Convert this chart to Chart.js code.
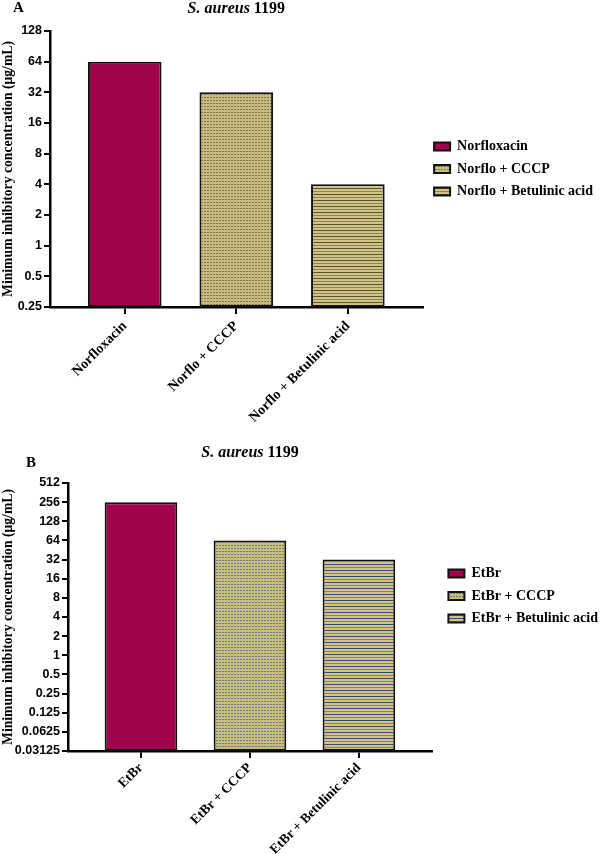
<!DOCTYPE html>
<html>
<head>
<meta charset="utf-8">
<script src="https://cdn.jsdelivr.net/npm/chart.js@4.4.0/dist/chart.umd.min.js"></script>
<style>
  body { margin: 0; background: #fff; width: 600px; height: 854px; position: relative; overflow: hidden; }
  .panel { position: absolute; left: 0; width: 600px; }
</style>
</head>
<body>
<div class="panel" style="top:0; height:430px"><canvas id="chartA"></canvas></div>
<div class="panel" style="top:430px; height:424px"><canvas id="chartB"></canvas></div>
<script>
// panel A: norfloxacin
const categoriesA = ['Norfloxacin', 'Norflo + CCCP', 'Norflo + Betulinic acid'];
const micA = [64, 32, 4];
const yTicksA = ['0.25', '0.5', '1', '2', '4', '8', '16', '32', '64', '128'];

// panel B: ethidium bromide
const categoriesB = ['EtBr', 'EtBr + CCCP', 'EtBr + Betulinic acid'];
const micB = [256, 64, 32];
const yTicksB = ['0.03125', '0.0625', '0.125', '0.25', '0.5', '1', '2', '4', '8', '16', '32', '64', '128', '256', '512'];

const yTitle = 'Minimum inhibitory concentration (μg/mL)';
const SERIF = '"Liberation Serif", "Times New Roman", serif';
const SANS = '"Liberation Sans", Arial, sans-serif';
const TAN = '#c9bc7f';

function dotPattern(dot) {
  const c = document.createElement('canvas');
  c.width = 3; c.height = 3;
  const g = c.getContext('2d');
  g.fillStyle = TAN; g.fillRect(0, 0, 3, 3);
  g.fillStyle = dot; g.fillRect(0, 1, 2, 1);
  return g.createPattern(c, 'repeat');
}

function stripePattern(line, line2) {
  const c = document.createElement('canvas');
  c.width = 4; c.height = 6;
  const g = c.getContext('2d');
  g.fillStyle = '#d0c386'; g.fillRect(0, 0, 4, 6);
  g.fillStyle = line; g.fillRect(0, 2, 4, 1);
  g.fillStyle = line2; g.fillRect(0, 5, 4, 1);
  return g.createPattern(c, 'repeat');
}

// draws "S. aureus 1199" (italic species) and the panel letter
const headerPlugin = {
  id: 'header',
  afterLayout(chart, args, opts) {
    // nudge the legend a little to the right, as in the figure
    const l = chart.legend;
    if (l) { l.left += opts.legendDx; l.right += opts.legendDx; }
  },
  afterDraw(chart, args, opts) {
    const { ctx, chartArea } = chart;
    ctx.save();
    ctx.fillStyle = '#000';
    ctx.textBaseline = 'middle';
    const it = 'italic bold 16px ' + SERIF;
    const bd = 'bold 16px ' + SERIF;
    ctx.font = it;
    const w1 = ctx.measureText(opts.species).width;
    ctx.font = bd;
    const w2 = ctx.measureText(' ' + opts.strain).width;
    const x = (chartArea.left + chartArea.right) / 2 - (w1 + w2) / 2;
    ctx.font = it;
    ctx.fillText(opts.species, x, opts.y);
    ctx.font = bd;
    ctx.fillText(' ' + opts.strain, x + w1, opts.y);
    ctx.font = 'bold 15px ' + SERIF;
    ctx.fillText(opts.tag, opts.tagX, opts.tagY);
    ctx.restore();
  }
};

function makeChart(id, categories, values, yTicks, fills, cfg) {
  const datasets = categories.map((c, i) => ({
    label: c,
    data: [{ x: i, y: values[i] }],
    backgroundColor: fills[i],
    borderColor: '#111',
    borderWidth: 2,
    borderSkipped: false,
    grouped: false,
    categoryPercentage: 1,
    barPercentage: cfg.barPct
  }));

  return new Chart(document.getElementById(id), {
    type: 'bar',
    data: { datasets },
    plugins: [headerPlugin],
    options: {
      responsive: true,
      maintainAspectRatio: false,
      animation: false,
      layout: { padding: { top: cfg.top, right: 0, bottom: 0, left: 0 } },
      scales: {
        x: {
          type: 'linear',
          offset: false,
          min: -0.67,
          max: categories.length - 1 + 0.67,
          afterBuildTicks: s => { s.ticks = categories.map((c, i) => ({ value: i })); },
          afterFit: s => { s.height = cfg.bottomH; },
          border: { color: '#000', width: 2.5 },
          grid: { offset: false, drawOnChartArea: false, color: '#000', lineWidth: 2, tickLength: 7 },
          ticks: {
            color: '#000', autoSkip: false, minRotation: 45, maxRotation: 45, padding: cfg.xPad,
            font: { family: SERIF, weight: 'bold', size: cfg.xFont },
            callback: v => categories[v]
          }
        },
        y: {
          type: 'logarithmic',
          min: Number(yTicks[0]),
          max: Number(yTicks[yTicks.length - 1]),
          afterBuildTicks: s => { s.ticks = yTicks.map(t => ({ value: Number(t) })); },
          afterFit: s => { s.width = cfg.leftW; },
          border: { color: '#000', width: 2.5 },
          grid: { drawOnChartArea: false, color: '#000', lineWidth: 2, tickLength: 6 },
          ticks: {
            color: '#000', autoSkip: false, padding: 2,
            font: { family: SANS, weight: 'bold', size: 12.5 },
            callback: v => yTicks.find(t => Number(t) === v)
          },
          title: {
            display: true, text: yTitle, color: '#000', padding: 0,
            font: { family: SERIF, weight: 'bold', size: 13.7 }
          }
        }
      },
      plugins: {
        legend: {
          position: 'right',
          align: 'start',
          fullSize: false,
          maxWidth: 200,
          title: { display: true, text: '', font: { size: 10 }, padding: { top: cfg.legendPad, bottom: 0 } },
          labels: {
            boxWidth: 16, boxHeight: 8, padding: 8.5, color: '#000',
            font: { family: SERIF, weight: 'bold', size: 14 }
          }
        },
        tooltip: { enabled: false },
        header: cfg.header
      }
    }
  });
}

makeChart('chartA', categoriesA, micA, yTicksA,
  ['#a0044a', dotPattern('#7d7454'), stripePattern('#5a5436', '#8c8458')],
  { top: 31, bottomH: 123, leftW: 50, barPct: 0.66, legendPad: 88, xFont: 14, xPad: 4,
    header: { species: 'S. aureus', strain: '1199', y: 9, tag: 'A', tagX: 13, tagY: 8, legendDx: 3 } });

makeChart('chartB', categoriesB, micB, yTicksB,
  ['#a0044a', dotPattern('#6f7b86'), stripePattern('#34506e', '#8c8458')],
  { top: 53, bottomH: 103, leftW: 68, barPct: 0.667, legendPad: 63, xFont: 13.5, xPad: 2,
    header: { species: 'S. aureus', strain: '1199', y: 23, tag: 'B', tagX: 26, tagY: 33, legendDx: 8 } });
</script>
</body>
</html>
